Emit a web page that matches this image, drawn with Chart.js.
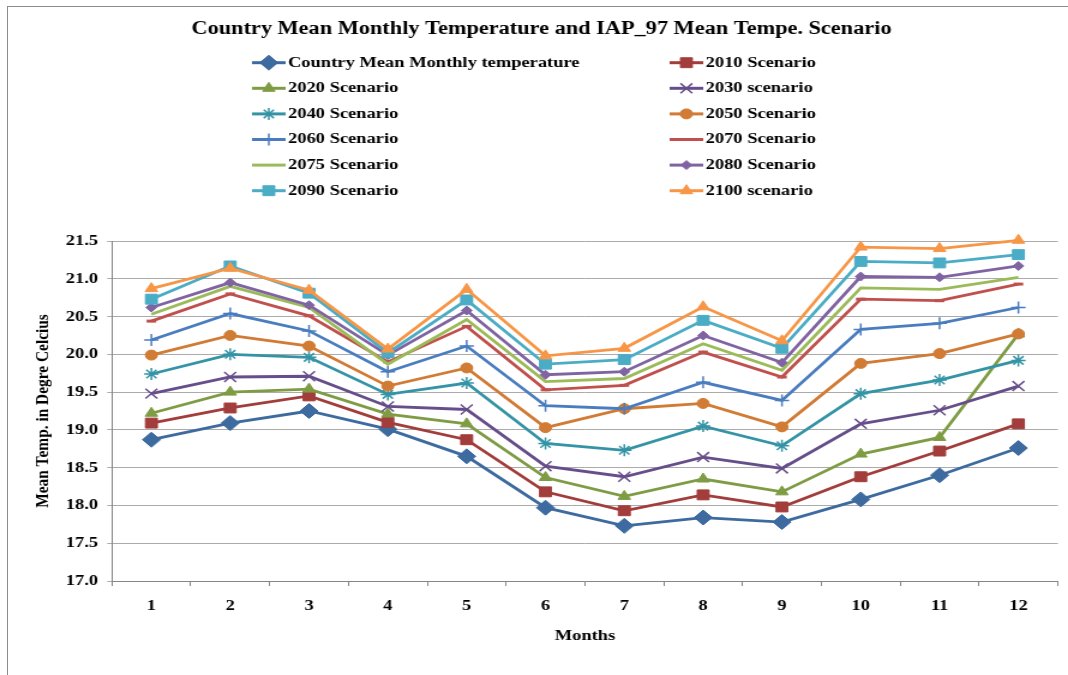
<!DOCTYPE html>
<html>
<head>
<meta charset="utf-8">
<title>Country Mean Monthly Temperature and IAP_97 Mean Tempe. Scenario</title>
<script src="https://cdn.jsdelivr.net/npm/chart.js@4.4.1/dist/chart.umd.min.js"></script>
<style>
    html, body { margin: 0; padding: 0; background: #fff; }
    #frame { position: relative; width: 1068px; height: 675px; overflow: hidden; }
    /* the source picture is stretched sideways by about 1.2, so is the canvas */
    #wrap { position: absolute; left: 0; top: 0; width: 890px; height: 675px; transform: scaleX(1.2); transform-origin: 0 0; }
    #border { position: absolute; left: 7px; top: 6px; right: 0; bottom: 0; border-left: 1px solid #8c8c8c; border-top: 1px solid #8c8c8c; pointer-events: none; }
</style>
</head>
<body>
<div id="frame">
    <div id="wrap"><canvas id="temp-chart" width="890" height="675"></canvas></div>
    <div id="border"></div>
</div>
<script>
const FONT = '"Liberation Serif", "Times New Roman", serif';

// months 1..12
const months = ['1', '2', '3', '4', '5', '6', '7', '8', '9', '10', '11', '12'];

const countryMean = [18.87, 19.09, 19.25, 19.01, 18.65, 17.97, 17.73, 17.84, 17.78, 18.08, 18.40, 18.76];
const scen2010 = [19.09, 19.29, 19.45, 19.10, 18.87, 18.18, 17.93, 18.14, 17.98, 18.38, 18.72, 19.08];
const scen2020 = [19.22, 19.50, 19.54, 19.21, 19.08, 18.37, 18.12, 18.35, 18.18, 18.68, 18.90, 20.27];
const scen2030 = [19.48, 19.70, 19.71, 19.31, 19.27, 18.52, 18.38, 18.64, 18.49, 19.08, 19.26, 19.58];
const scen2040 = [19.74, 20.00, 19.96, 19.47, 19.62, 18.82, 18.73, 19.05, 18.79, 19.48, 19.66, 19.92];
const scen2050 = [19.99, 20.25, 20.11, 19.58, 19.82, 19.03, 19.28, 19.35, 19.04, 19.88, 20.01, 20.27];
const scen2060 = [20.19, 20.54, 20.31, 19.77, 20.11, 19.32, 19.28, 19.63, 19.39, 20.33, 20.41, 20.62];
const scen2070 = [20.44, 20.80, 20.51, 19.90, 20.37, 19.53, 19.59, 20.03, 19.70, 20.73, 20.71, 20.93];
const scen2075 = [20.53, 20.90, 20.62, 19.87, 20.46, 19.64, 19.68, 20.14, 19.79, 20.88, 20.86, 21.02];
const scen2080 = [20.62, 20.95, 20.65, 19.99, 20.58, 19.73, 19.77, 20.25, 19.89, 21.03, 21.02, 21.17];
const scen2090 = [20.73, 21.17, 20.81, 20.02, 20.72, 19.87, 19.93, 20.45, 20.08, 21.23, 21.21, 21.32];
const scen2100 = [20.87, 21.14, 20.85, 20.07, 20.86, 19.98, 20.08, 20.63, 20.18, 21.42, 21.40, 21.51];

const seriesLabels = ['Country Mean Monthly temperature', '2010 Scenario', '2020 Scenario', '2030 scenario',
    '2040 Scenario', '2050 Scenario', '2060 Scenario', '2070 Scenario', '2075 Scenario', '2080 Scenario',
    '2090 Scenario', '2100 scenario'];
const seriesValues = [countryMean, scen2010, scen2020, scen2030, scen2040, scen2050,
    scen2060, scen2070, scen2075, scen2080, scen2090, scen2100];

// styles
const colors = ['#3D6A9F', '#A23D3B', '#7F9C45', '#664E8A', '#3494A6', '#D17B34',
    '#4A7DBF', '#C0504D', '#9BBB59', '#8064A2', '#4BACC6', '#F79646'];
const markers = ['rectRot', 'rect', 'triangle', 'crossRot', 'star', 'circle',
    'cross', 'line', 'circle', 'rectRot', 'rect', 'triangle'];
const markerRadius = [7.5, 7, 6, 7, 6, 5, 6, 4, 0, 4.5, 7, 6];
const markerBorder = [1, 1, 1, 1.5, 1.5, 1, 1.5, 3, 1, 1, 1, 1];

const datasets = seriesValues.map((vals, i) => ({
    label: seriesLabels[i],
    data: vals,
    borderColor: colors[i],
    borderWidth: 2.8,
    pointStyle: markers[i],
    pointRadius: markerRadius[i],
    pointBackgroundColor: colors[i],
    pointBorderColor: colors[i],
    pointBorderWidth: markerBorder[i],
    fill: false,
    tension: 0,
    clip: false,
    order: seriesValues.length - i
}));

// two column legend like the Excel one
const twoColLegend = {
    id: 'twoColLegend',
    afterDraw(chart) {
        const ctx = chart.ctx;
        chart.data.datasets.forEach((ds, i) => {
            const x0 = i % 2 ? 558 : 210;
            const y = 62.7 + Math.floor(i / 2) * 25.6;
            ctx.save();
            ctx.strokeStyle = ds.borderColor;
            ctx.lineWidth = 3;
            ctx.beginPath();
            ctx.moveTo(x0, y);
            ctx.lineTo(x0 + 28, y);
            ctx.stroke();
            if (ds.pointRadius > 0) {
                ctx.fillStyle = ds.pointBackgroundColor;
                ctx.strokeStyle = ds.pointBorderColor;
                ctx.lineWidth = ds.pointBorderWidth;
                Chart.helpers.drawPoint(ctx, {
                    pointStyle: ds.pointStyle,
                    radius: ds.pointRadius,
                    rotation: 0,
                    borderWidth: ds.pointBorderWidth
                }, x0 + 14, y);
            }
            ctx.fillStyle = '#000';
            ctx.font = 'bold 15.4px ' + FONT;
            ctx.textAlign = 'left';
            ctx.textBaseline = 'middle';
            ctx.fillText(ds.label, x0 + 30, y);
            ctx.restore();
        });
    }
};

new Chart(document.getElementById('temp-chart'), {
    type: 'line',
    data: {
        labels: months,
        datasets: datasets
    },
    plugins: [twoColLegend],
    options: {
        responsive: false,
        devicePixelRatio: 1,
        animation: false,
        layout: { padding: { left: 15, right: 2.5, top: 0, bottom: 0 } },
        plugins: {
            legend: { display: false },
            tooltip: { enabled: false },
            title: {
                display: true,
                text: 'Country Mean Monthly Temperature and IAP_97 Mean Tempe. Scenario',
                color: '#000',
                font: { family: FONT, size: 18.6, weight: 'bold' },
                padding: { top: 17.8, bottom: 200.9 }
            }
        },
        scales: {
            x: {
                offset: true,
                grid: {
                    offset: true,
                    drawOnChartArea: false,
                    drawTicks: true,
                    tickLength: 5,
                    color: '#868686'
                },
                border: { color: '#868686', width: 1 },
                ticks: {
                    color: '#000',
                    padding: 11,
                    font: { family: FONT, size: 15.4, weight: 'bold' }
                },
                title: {
                    display: true,
                    text: 'Months',
                    color: '#000',
                    font: { family: FONT, size: 15.4, weight: 'bold' },
                    padding: { top: 0, bottom: 30 }
                },
                afterFit: function (scale) { scale.height = 94; }
            },
            y: {
                min: 17,
                max: 21.5,
                grid: {
                    color: '#ababab',
                    tickLength: 4
                },
                border: { color: '#868686', width: 1 },
                ticks: {
                    stepSize: 0.5,
                    color: '#000',
                    padding: 7.5,
                    font: { family: FONT, size: 15.4, weight: 'bold' },
                    callback: function (v) { return v.toFixed(1); }
                },
                title: {
                    display: true,
                    text: 'Mean Temp. in Degre Celcius',
                    color: '#000',
                    font: { family: FONT, size: 15.4, weight: 'bold' },
                    padding: { top: 11.6, bottom: 0 }
                },
                afterFit: function (scale) { scale.width = 78.3; }
            }
        }
    }
});
</script>
</body>
</html>
